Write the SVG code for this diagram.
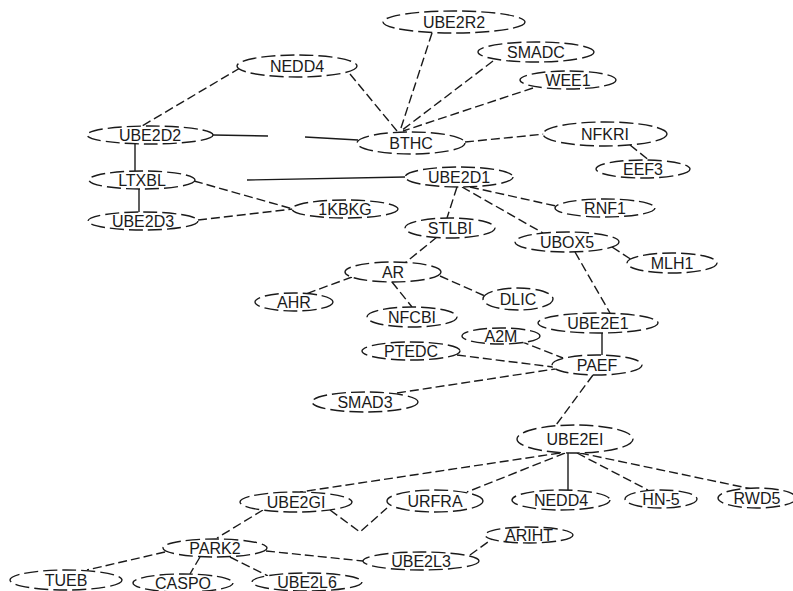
<svg xmlns="http://www.w3.org/2000/svg" width="793" height="591" viewBox="0 0 793 591">
<style>
.n ellipse{fill:#fff;stroke:#1a1a1a;stroke-width:1.4;stroke-dasharray:14 5}
.n text{font-family:"Liberation Sans",Arial,sans-serif;font-size:16px;fill:#1a1a1a;text-anchor:middle;dominant-baseline:central}
#edges line,#edges polyline{stroke:#1a1a1a;stroke-width:1.4;fill:none}
#edges .d{stroke-dasharray:9 4}
</style>
<rect width="793" height="591" fill="#fff"/>
<g id="edges">
<line class="d" x1="432" y1="33" x2="400" y2="131"/>
<line class="d" x1="493" y1="61" x2="401" y2="131"/>
<line class="d" x1="533" y1="88" x2="403" y2="131"/>
<line class="d" x1="350" y1="74" x2="397" y2="131"/>
<line class="d" x1="240" y1="68" x2="142" y2="126"/>
<line class="d" x1="465" y1="142" x2="545" y2="134"/>
<line class="d" x1="630" y1="145" x2="650" y2="161"/>
<line class="d" x1="194" y1="181" x2="293" y2="209"/>
<line class="d" x1="198" y1="220" x2="293" y2="209"/>
<line class="d" x1="457" y1="187" x2="447" y2="218"/>
<line class="d" x1="470" y1="187" x2="556" y2="206"/>
<line class="d" x1="462" y1="187" x2="543" y2="233"/>
<line class="d" x1="612" y1="247" x2="632" y2="260"/>
<line class="d" x1="575" y1="252" x2="610" y2="313"/>
<line class="d" x1="437" y1="237" x2="405" y2="263"/>
<line class="d" x1="352" y1="277" x2="303" y2="295"/>
<line class="d" x1="392" y1="282" x2="412" y2="307"/>
<line class="d" x1="440" y1="276" x2="485" y2="296"/>
<line class="d" x1="520" y1="341" x2="563" y2="358"/>
<line class="d" x1="457" y1="355" x2="553" y2="367"/>
<line class="d" x1="397" y1="393" x2="555" y2="369"/>
<line class="d" x1="593" y1="375" x2="556" y2="425"/>
<line class="d" x1="560" y1="453" x2="300" y2="492"/>
<line class="d" x1="565" y1="453" x2="467" y2="492"/>
<line class="d" x1="577" y1="453" x2="648" y2="490"/>
<line class="d" x1="580" y1="453" x2="752" y2="489"/>
<polyline class="d" points="330,510 360,532 387,508"/>
<line class="d" x1="263" y1="510" x2="217" y2="538"/>
<line class="d" x1="165" y1="552" x2="87" y2="570"/>
<line class="d" x1="200" y1="557" x2="190" y2="574"/>
<line class="d" x1="230" y1="557" x2="268" y2="576"/>
<line class="d" x1="266" y1="551" x2="363" y2="561"/>
<line class="d" x1="470" y1="555" x2="492" y2="539"/>
<line x1="213" y1="135" x2="268" y2="136"/>
<line x1="305" y1="137" x2="358" y2="140"/>
<line x1="135" y1="144" x2="135" y2="171"/>
<line x1="139" y1="189" x2="139" y2="212"/>
<line x1="247" y1="180" x2="405" y2="177"/>
<line x1="602" y1="333" x2="602" y2="355"/>
<line x1="568" y1="453" x2="568" y2="490"/>
</g>
<g id="n-UBE2R2" class="n"><ellipse cx="454" cy="22" rx="71" ry="11"/><text x="454" y="22">UBE2R2</text></g>
<g id="n-SMADC" class="n"><ellipse cx="536" cy="52" rx="58" ry="10"/><text x="536" y="52">SMADC</text></g>
<g id="n-WEE1" class="n"><ellipse cx="568" cy="80" rx="48" ry="9"/><text x="568" y="80">WEE1</text></g>
<g id="n-NEDD4" class="n"><ellipse cx="297" cy="66" rx="60" ry="11"/><text x="297" y="66">NEDD4</text></g>
<g id="n-UBE2D2" class="n"><ellipse cx="150" cy="135" rx="63" ry="9"/><text x="150" y="135">UBE2D2</text></g>
<g id="n-BTHC" class="n"><ellipse cx="411" cy="143" rx="54" ry="11"/><text x="411" y="143">BTHC</text></g>
<g id="n-NFKRI" class="n"><ellipse cx="605" cy="134" rx="62" ry="12"/><text x="605" y="134">NFKRI</text></g>
<g id="n-EEF3" class="n"><ellipse cx="643" cy="169" rx="47" ry="9"/><text x="643" y="169">EEF3</text></g>
<g id="n-LTXBL" class="n"><ellipse cx="142" cy="180" rx="53" ry="9"/><text x="142" y="180">LTXBL</text></g>
<g id="n-UBE2D1" class="n"><ellipse cx="459" cy="177" rx="54" ry="10"/><text x="459" y="177">UBE2D1</text></g>
<g id="n-UBE2D3" class="n"><ellipse cx="143" cy="221" rx="55" ry="9"/><text x="143" y="221">UBE2D3</text></g>
<g id="n-1KBKG" class="n"><ellipse cx="345" cy="209" rx="53" ry="9"/><text x="345" y="209">1KBKG</text></g>
<g id="n-RNF1" class="n"><ellipse cx="605" cy="208" rx="50" ry="9"/><text x="605" y="208">RNF1</text></g>
<g id="n-STLBI" class="n"><ellipse cx="450" cy="228" rx="45" ry="10"/><text x="450" y="228">STLBI</text></g>
<g id="n-UBOX5" class="n"><ellipse cx="567" cy="242" rx="52" ry="10"/><text x="567" y="242">UBOX5</text></g>
<g id="n-MLH1" class="n"><ellipse cx="672" cy="263" rx="45" ry="10"/><text x="672" y="263">MLH1</text></g>
<g id="n-AR" class="n"><ellipse cx="393" cy="272" rx="48" ry="10"/><text x="393" y="272">AR</text></g>
<g id="n-AHR" class="n"><ellipse cx="294" cy="302" rx="39" ry="9"/><text x="294" y="302">AHR</text></g>
<g id="n-NFCBI" class="n"><ellipse cx="412" cy="317" rx="45" ry="10"/><text x="412" y="317">NFCBI</text></g>
<g id="n-DLIC" class="n"><ellipse cx="518" cy="299" rx="35" ry="11"/><text x="518" y="299">DLIC</text></g>
<g id="n-UBE2E1" class="n"><ellipse cx="598" cy="323" rx="60" ry="10"/><text x="598" y="323">UBE2E1</text></g>
<g id="n-A2M" class="n"><ellipse cx="501" cy="336" rx="39" ry="8"/><text x="501" y="336">A2M</text></g>
<g id="n-PTEDC" class="n"><ellipse cx="411" cy="351" rx="49" ry="9"/><text x="411" y="351">PTEDC</text></g>
<g id="n-PAEF" class="n"><ellipse cx="597" cy="365" rx="45" ry="10"/><text x="597" y="365">PAEF</text></g>
<g id="n-SMAD3" class="n"><ellipse cx="365" cy="402" rx="53" ry="10"/><text x="365" y="402">SMAD3</text></g>
<g id="n-UBE2EI" class="n"><ellipse cx="575" cy="439" rx="58" ry="14"/><text x="575" y="439">UBE2EI</text></g>
<g id="n-UBE2GI" class="n"><ellipse cx="296" cy="502" rx="56" ry="10"/><text x="296" y="502">UBE2GI</text></g>
<g id="n-URFRA" class="n"><ellipse cx="435" cy="501" rx="48" ry="11"/><text x="435" y="501">URFRA</text></g>
<g id="n-NEDD4b" class="n"><ellipse cx="561" cy="500" rx="49" ry="10"/><text x="561" y="500">NEDD4</text></g>
<g id="n-HN5" class="n"><ellipse cx="661" cy="499" rx="36" ry="9"/><text x="661" y="499">HN-5</text></g>
<g id="n-RWD5" class="n"><ellipse cx="757" cy="498" rx="39" ry="10"/><text x="757" y="498">RWD5</text></g>
<g id="n-ARIHT" class="n"><ellipse cx="529" cy="535" rx="44" ry="8"/><text x="529" y="535">ARIHT</text></g>
<g id="n-PARK2" class="n"><ellipse cx="215" cy="548" rx="52" ry="9"/><text x="215" y="548">PARK2</text></g>
<g id="n-UBE2L3" class="n"><ellipse cx="421" cy="561" rx="58" ry="9"/><text x="421" y="561">UBE2L3</text></g>
<g id="n-TUEB" class="n"><ellipse cx="66" cy="580" rx="56" ry="10"/><text x="66" y="580">TUEB</text></g>
<g id="n-CASPO" class="n"><ellipse cx="183" cy="583" rx="50" ry="9"/><text x="183" y="583">CASPO</text></g>
<g id="n-UBE2L6" class="n"><ellipse cx="307" cy="582" rx="55" ry="9"/><text x="307" y="582">UBE2L6</text></g>
</svg>
